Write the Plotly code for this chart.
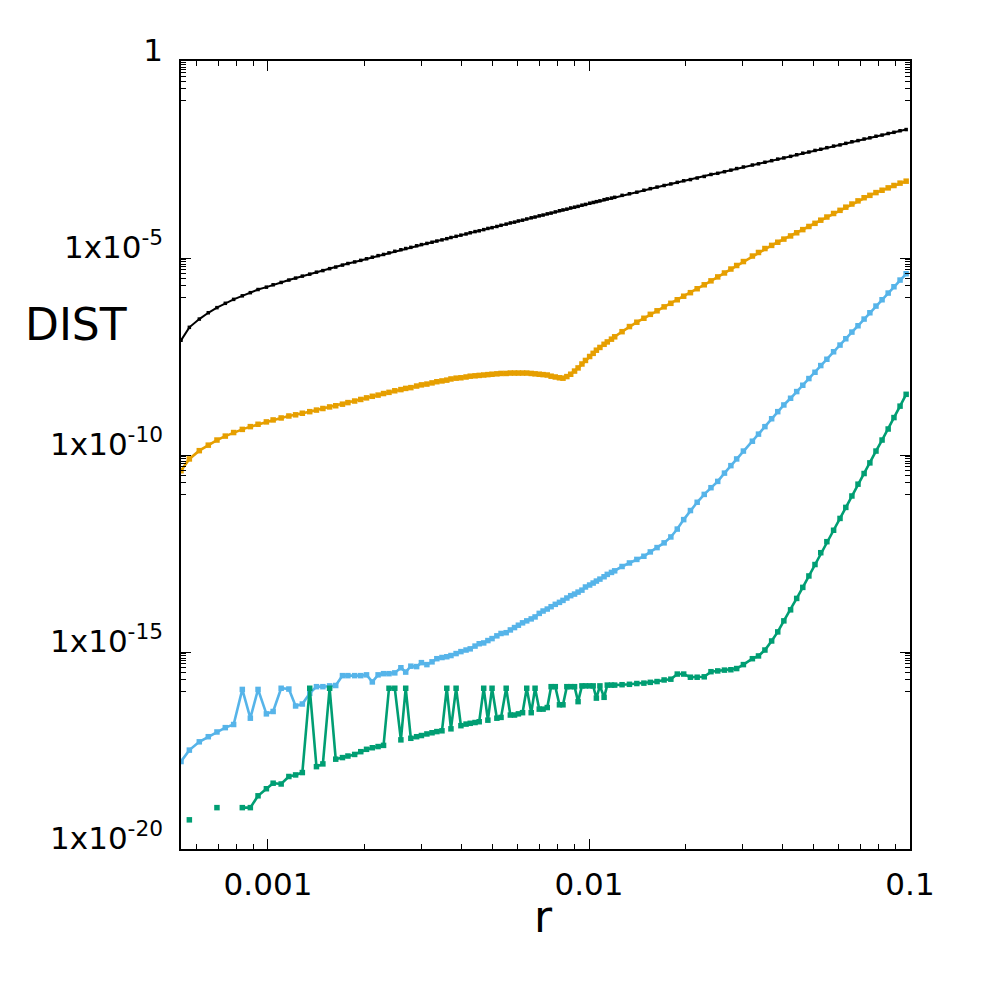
import plotly.graph_objects as go

# valores, en log10 (eje r y eje DIST)
log10_r = [
    -3.271, -3.245, -3.214, -3.186, -3.159, -3.133, -3.107, -3.080, -3.055, -3.031,
    -3.005, -2.984, -2.959, -2.935, -2.914, -2.893, -2.870, -2.849, -2.829, -2.808,
    -2.789, -2.768, -2.751, -2.730, -2.711, -2.693, -2.675, -2.657, -2.640, -2.623,
    -2.605, -2.586, -2.571, -2.555, -2.537, -2.522, -2.505, -2.489, -2.474, -2.458,
    -2.443, -2.430, -2.414, -2.399, -2.383, -2.370, -2.355, -2.342, -2.328, -2.315,
    -2.302, -2.287, -2.274, -2.258, -2.245, -2.232, -2.220, -2.207, -2.194, -2.180,
    -2.168, -2.155, -2.143, -2.130, -2.118, -2.105, -2.092, -2.081, -2.069, -2.057,
    -2.045, -2.034, -2.022, -2.011, -1.998, -1.987, -1.977, -1.966, -1.953, -1.943,
    -1.930, -1.920, -1.897, -1.874, -1.851, -1.829, -1.809, -1.788, -1.766, -1.745,
    -1.725, -1.705, -1.684, -1.663, -1.641, -1.620, -1.599, -1.578, -1.558, -1.540,
    -1.519, -1.491, -1.472, -1.452, -1.431, -1.412, -1.393, -1.372, -1.353, -1.334,
    -1.315, -1.296, -1.278, -1.259, -1.238, -1.218, -1.200, -1.181, -1.162, -1.143,
    -1.125, -1.106, -1.087, -1.068, -1.050, -1.031, -1.012,
]

log10_dist_black = [
    -7.09, -6.76, -6.55, -6.39, -6.26, -6.15, -6.05, -5.96, -5.88, -5.80,
    -5.74, -5.68, -5.62, -5.56, -5.51, -5.46, -5.41, -5.36, -5.32, -5.27,
    -5.23, -5.18, -5.14, -5.10, -5.06, -5.02, -4.98, -4.94, -4.91, -4.87,
    -4.83, -4.79, -4.76, -4.73, -4.69, -4.66, -4.63, -4.60, -4.57, -4.54,
    -4.51, -4.48, -4.45, -4.42, -4.39, -4.36, -4.33, -4.31, -4.28, -4.25,
    -4.23, -4.20, -4.17, -4.14, -4.11, -4.09, -4.06, -4.04, -4.01, -3.98,
    -3.96, -3.93, -3.91, -3.88, -3.86, -3.83, -3.80, -3.78, -3.76, -3.73,
    -3.71, -3.69, -3.66, -3.64, -3.61, -3.59, -3.57, -3.55, -3.52, -3.50,
    -3.48, -3.46, -3.41, -3.37, -3.33, -3.28, -3.24, -3.20, -3.16, -3.12,
    -3.08, -3.04, -3.01, -2.97, -2.93, -2.88, -2.85, -2.81, -2.77, -2.73,
    -2.69, -2.64, -2.61, -2.57, -2.53, -2.49, -2.46, -2.42, -2.38, -2.34,
    -2.31, -2.27, -2.24, -2.20, -2.16, -2.13, -2.09, -2.05, -2.02, -1.98,
    -1.95, -1.91, -1.88, -1.84, -1.81, -1.77, -1.74,
]

log10_dist_orange = [
    -10.40, -10.10, -9.89, -9.75, -9.62, -9.52, -9.43, -9.35, -9.28, -9.22,
    -9.16, -9.11, -9.06, -9.01, -8.98, -8.94, -8.90, -8.86, -8.82, -8.78,
    -8.75, -8.71, -8.67, -8.63, -8.59, -8.55, -8.51, -8.48, -8.44, -8.41,
    -8.37, -8.34, -8.31, -8.29, -8.25, -8.22, -8.20, -8.17, -8.14, -8.12,
    -8.10, -8.07, -8.05, -8.04, -8.02, -8.00, -7.99, -7.98, -7.97, -7.96,
    -7.95, -7.94, -7.93, -7.93, -7.92, -7.92, -7.92, -7.92, -7.92, -7.93,
    -7.94, -7.95, -7.96, -7.97, -8.00, -8.02, -8.04, -8.05, -8.01, -7.95,
    -7.87, -7.79, -7.69, -7.60, -7.50, -7.42, -7.34, -7.27, -7.19, -7.13,
    -7.06, -7.00, -6.87, -6.74, -6.63, -6.53, -6.43, -6.34, -6.24, -6.15,
    -6.06, -5.97, -5.88, -5.78, -5.68, -5.58, -5.48, -5.38, -5.28, -5.19,
    -5.09, -4.95, -4.86, -4.76, -4.68, -4.60, -4.52, -4.44, -4.36, -4.28,
    -4.20, -4.12, -4.04, -3.96, -3.87, -3.79, -3.71, -3.63, -3.55, -3.47,
    -3.41, -3.34, -3.28, -3.22, -3.16, -3.10, -3.05,
]

log10_dist_blue = [
    -17.78, -17.49, -17.28, -17.15, -17.03, -16.92, -16.84, -15.95, -16.68, -15.95,
    -16.57, -16.51, -15.92, -15.94, -16.37, -16.32, -16.05, -15.88, -15.88, -15.86,
    -15.85, -15.60, -15.60, -15.60, -15.60, -15.58, -15.76, -15.58, -15.55, -15.55,
    -15.53, -15.40, -15.51, -15.36, -15.37, -15.27, -15.32, -15.25, -15.17, -15.14,
    -15.12, -15.09, -15.04, -14.99, -14.95, -14.92, -14.85, -14.79, -14.77, -14.71,
    -14.66, -14.59, -14.53, -14.51, -14.44, -14.38, -14.32, -14.26, -14.21, -14.16,
    -14.11, -14.02, -13.96, -13.91, -13.85, -13.79, -13.74, -13.69, -13.63, -13.57,
    -13.53, -13.48, -13.43, -13.35, -13.30, -13.25, -13.20, -13.15, -13.09, -13.03,
    -12.98, -12.94, -12.83, -12.74, -12.65, -12.57, -12.46, -12.35, -12.23, -12.08,
    -11.88, -11.64, -11.41, -11.20, -11.00, -10.83, -10.67, -10.46, -10.27, -10.10,
    -9.90, -9.65, -9.47, -9.28, -9.08, -8.90, -8.73, -8.56, -8.39, -8.23,
    -8.06, -7.90, -7.73, -7.57, -7.38, -7.21, -7.05, -6.88, -6.72, -6.55,
    -6.39, -6.22, -6.06, -5.89, -5.73, -5.56, -5.40,
]

# None = valor nulo (no se dibuja en escala log)
log10_dist_green = [
    None, -19.26, None, None, -18.95, None, None, -18.95, -18.95, -18.65,
    -18.47, -18.33, -18.35, -18.16, -18.12, -18.06, -15.92, -17.91, -17.84, -15.92,
    -17.72, -17.68, -17.64, -17.60, -17.53, -17.47, -17.43, -17.40, -17.37, -15.92,
    -15.92, -17.23, -15.92, -17.19, -17.15, -17.12, -17.08, -17.05, -17.02, -17.00,
    -15.92, -16.95, -15.92, -16.87, -16.83, -16.81, -16.79, -16.77, -15.92, -16.73,
    -15.92, -16.68, -16.66, -15.92, -16.60, -16.60, -16.57, -16.54, -15.92, -16.54,
    -15.92, -16.45, -16.45, -16.41, -15.88, -15.88, -16.34, -16.34, -15.88, -15.88,
    -15.88, -16.26, -15.86, -15.86, -15.86, -15.86, -16.17, -15.86, -16.15, -15.84,
    -15.84, -15.84, -15.83, -15.82, -15.80, -15.79, -15.77, -15.75, -15.71, -15.69,
    -15.56, -15.56, -15.64, -15.64, -15.63, -15.50, -15.48, -15.46, -15.45, -15.42,
    -15.32, -15.17, -15.10, -14.95, -14.72, -14.49, -14.21, -13.93, -13.64, -13.36,
    -13.07, -12.78, -12.48, -12.20, -11.91, -11.61, -11.33, -11.04, -10.74, -10.47,
    -10.20, -9.90, -9.62, -9.34, -9.05, -8.76, -8.46,
]

x_major = [0.001, 0.01, 0.1]
x_major_text = ["0.001", "0.01", "0.1"]
y_major = [1, 1e-5, 1e-10, 1e-15, 1e-20]
y_major_text = ["1", "1x10<sup>-5</sup>", "1x10<sup>-10</sup>",
                "1x10<sup>-15</sup>", "1x10<sup>-20</sup>"]

# ticks menores: 2..9 por decada en x, k/10 del mayor superior en y
x_minor = [k * 10.0 ** e for e in (-4, -3, -2) for k in range(2, 10) if k * 10.0 ** e > 5.4e-4]
y_minor = [k * 10.0 ** (e - 1) for e in (0, -5, -10, -15) for k in range(1, 10)]

r = [10 ** v for v in log10_r]


def to_dist(vals):
    return [None if v is None else 10 ** v for v in vals]


fig = go.Figure()

# curva negra
fig.add_trace(go.Scatter(
    x=r, y=to_dist(log10_dist_black), mode="lines+markers",
    line=dict(color="#000000", width=2),
    marker=dict(symbol="square", size=3.5, color="#000000"),
    showlegend=False,
))

for vals, color in [(log10_dist_orange, "#E69F00"),
                    (log10_dist_blue, "#56B4E9"),
                    (log10_dist_green, "#009E73")]:
    fig.add_trace(go.Scatter(
        x=r, y=to_dist(vals), mode="lines+markers",
        line=dict(color=color, width=2.6),
        marker=dict(symbol="square", size=5.5, color=color),
        connectgaps=False, showlegend=False,
    ))

# el body de la pagina deja 8 px de margen: la figura se corre 8 px
fig.update_layout(
    width=984, height=980,
    paper_bgcolor="white", plot_bgcolor="white",
    margin=dict(l=173, r=82, t=53, b=139),
    font=dict(family="DejaVu Sans", size=31, color="black"),
    annotations=[
        dict(text="DIST", x=-0.144, y=0.665, xref="paper", yref="paper",
             showarrow=False, xanchor="center", yanchor="middle",
             font=dict(size=44, color="black")),
        dict(text="r", x=0.497, y=-0.086, xref="paper", yref="paper",
             showarrow=False, xanchor="center", yanchor="middle",
             font=dict(size=44, color="black")),
    ],
)

axis_common = dict(
    type="log", tickmode="array", ticks="inside", ticklen=10, tickwidth=1.2,
    tickcolor="black", showline=True, linecolor="black", linewidth=1.5,
    mirror="ticks", showgrid=False, zeroline=False,
)

fig.update_xaxes(
    range=[-3.271, -1.0], tickvals=x_major, ticktext=x_major_text,
    ticklabelstandoff=7,
    minor=dict(tickmode="array", tickvals=x_minor, ticks="inside", ticklen=5,
               tickwidth=1.2, tickcolor="black", showgrid=False),
    **axis_common,
)
fig.update_yaxes(
    range=[-20, 0], tickvals=y_major, ticktext=y_major_text,
    ticklabelstandoff=10, ticklabelshift=-11,
    minor=dict(tickmode="array", tickvals=y_minor, ticks="inside", ticklen=5,
               tickwidth=1.2, tickcolor="black", showgrid=False),
    **axis_common,
)

fig.write_html("out.html")
